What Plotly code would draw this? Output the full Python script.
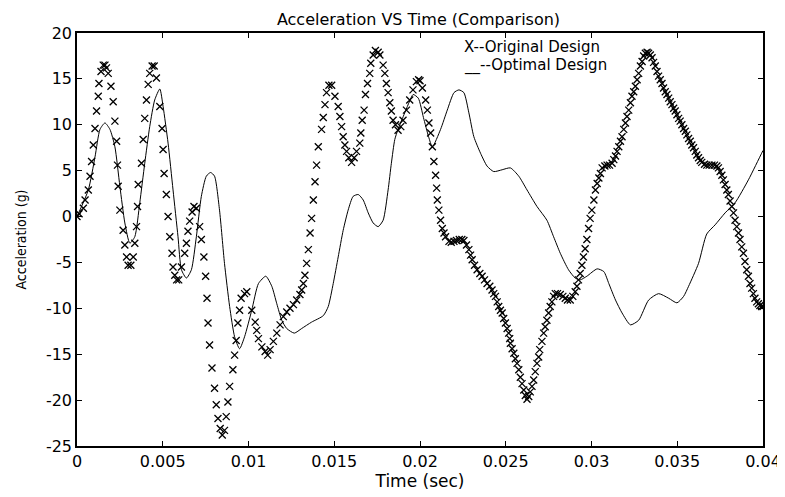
import plotly.graph_objects as go

# Optimal design (solid line)
opt_t = [0.0, 0.00066, 0.00105, 0.00134, 0.00163, 0.00192, 0.00221, 0.0025, 0.00279, 0.00308,
         0.00337, 0.00366, 0.00395, 0.00424, 0.00453, 0.00483, 0.00502, 0.00531, 0.0056, 0.00589,
         0.00609, 0.00638, 0.00667, 0.00696, 0.00725, 0.00754, 0.00779, 0.00802, 0.00831, 0.0086,
         0.0089, 0.00919, 0.00948, 0.00977, 0.01019, 0.01058, 0.01101, 0.01136, 0.01165, 0.01194,
         0.01223, 0.01267, 0.0131, 0.01368, 0.01436, 0.01465, 0.01494, 0.01523, 0.01552, 0.01581,
         0.0161, 0.0164, 0.01669, 0.01698, 0.01727, 0.01756, 0.01785, 0.01814, 0.01833, 0.01853,
         0.01872, 0.01911, 0.0194, 0.0196, 0.0199, 0.0202, 0.0205, 0.02072, 0.0212, 0.02159,
         0.02198, 0.02227, 0.02256, 0.02285, 0.02314, 0.02353, 0.02391, 0.0243, 0.02479, 0.02527,
         0.02576, 0.02624, 0.02682, 0.0274, 0.02779, 0.02818, 0.02866, 0.02905, 0.02934, 0.02973,
         0.03033, 0.03072, 0.03101, 0.0314, 0.03178, 0.03227, 0.03275, 0.03333, 0.03391, 0.0345,
         0.03498, 0.03537, 0.03566, 0.03624, 0.03672, 0.03721, 0.03779, 0.03837, 0.03915, 0.03992,
         0.04]
opt_a = [0.0, 2.9, 6.5, 9.5, 10.2, 9.5, 7.6, 3.3, -0.7, -2.9,
         -2.2, 1.5, 5.8, 9.8, 12.7, 13.9, 12.0, 8.0, 2.9, -2.2,
         -5.8, -6.7, -5.8, -2.2, 2.2, 4.4, 4.8, 4.4, 0.7, -5.1,
         -9.8, -13.1, -14.4, -13.1, -10.2, -7.3, -6.5, -7.6, -9.5, -11.3,
         -12.2, -12.7, -12.2, -11.5, -10.8, -9.8, -7.3, -4.4, -1.5, 0.7,
         2.2, 2.4, 1.8, 0.4, -0.7, -1.1, -0.4, 2.9, 5.8, 8.4,
         9.5, 11.3, 12.6, 13.3, 12.9, 10.8, 8.7, 7.6, 9.5, 11.6,
         13.5, 13.8, 13.5, 11.3, 8.7, 6.9, 5.5, 4.9, 5.1, 5.3,
         4.4, 2.9, 1.1, -0.4, -2.2, -4.0, -5.8, -6.7, -6.9, -6.5,
         -5.7, -6.0, -7.3, -9.1, -10.5, -11.8, -11.3, -9.1, -8.4, -8.9,
         -9.4, -8.7, -7.6, -5.1, -1.9, -0.9, 0.4, 1.5, 4.0, 6.9,
         7.2]

# Original design (x markers)
orig_t = [0.0, 0.00012, 0.00037, 0.00047, 0.00066, 0.00076, 0.00085, 0.00095, 0.00105, 0.00114,
          0.00124, 0.00128, 0.0014, 0.00153, 0.00163, 0.00172, 0.00182, 0.00198, 0.00211, 0.00221,
          0.00231, 0.00236, 0.0024, 0.0025, 0.00269, 0.00279, 0.00289, 0.00298, 0.00314, 0.00328,
          0.00337, 0.00347, 0.00353, 0.00357, 0.00376, 0.00386, 0.00395, 0.00405, 0.00415, 0.00424,
          0.00438, 0.0045, 0.00463, 0.00483, 0.00496, 0.00502, 0.00508, 0.00521, 0.00531, 0.00541,
          0.00554, 0.0056, 0.0057, 0.00581, 0.00593, 0.00609, 0.00628, 0.00638, 0.00647, 0.00657,
          0.00671, 0.00682, 0.00696, 0.00715, 0.00725, 0.0074, 0.0075, 0.00758, 0.00764, 0.00773,
          0.00787, 0.00802, 0.00812, 0.00822, 0.00835, 0.00847, 0.0086, 0.0087, 0.0088, 0.0089,
          0.00909, 0.00919, 0.00928, 0.00938, 0.00948, 0.00957, 0.00977, 0.0099, 0.01019, 0.01039,
          0.01048, 0.01058, 0.01078, 0.01097, 0.01112, 0.01126, 0.01145, 0.01165, 0.01184, 0.01203,
          0.01223, 0.01242, 0.01262, 0.01281, 0.013, 0.0131, 0.0132, 0.01329, 0.01339, 0.01349,
          0.01359, 0.01368, 0.01378, 0.01388, 0.01397, 0.01407, 0.01426, 0.01436, 0.01446, 0.01455,
          0.01469, 0.01485, 0.01504, 0.01523, 0.01533, 0.01543, 0.01552, 0.01562, 0.01572, 0.01585,
          0.01601, 0.01616, 0.0163, 0.01649, 0.01655, 0.01663, 0.01674, 0.01682, 0.01694, 0.01707,
          0.01713, 0.01727, 0.0174, 0.01756, 0.01766, 0.01785, 0.01795, 0.01804, 0.01814, 0.01824,
          0.01833, 0.01843, 0.01857, 0.01872, 0.01888, 0.01901, 0.01921, 0.0194, 0.01959, 0.01979,
          0.01992, 0.02, 0.02014, 0.02033, 0.02043, 0.02052, 0.02062, 0.02072, 0.02081, 0.02091,
          0.02097, 0.02101, 0.0211, 0.0212, 0.0213, 0.0214, 0.02149, 0.02169, 0.02182, 0.02198,
          0.02213, 0.02229, 0.02244, 0.02256, 0.02271, 0.02285, 0.02295, 0.02304, 0.02318, 0.02333,
          0.02349, 0.02362, 0.02376, 0.02391, 0.02407, 0.0242, 0.0243, 0.0244, 0.0245, 0.02459,
          0.02469, 0.02479, 0.02488, 0.02498, 0.02508, 0.02517, 0.02523, 0.02527, 0.02537, 0.02547,
          0.02556, 0.02566, 0.02576, 0.02585, 0.02595, 0.02605, 0.02614, 0.02624, 0.02634, 0.02643,
          0.02653, 0.02663, 0.02672, 0.02682, 0.02692, 0.02698, 0.02711, 0.02721, 0.0273, 0.0274,
          0.0275, 0.02759, 0.02769, 0.02779, 0.02789, 0.02802, 0.02818, 0.02833, 0.02847, 0.0286,
          0.02876, 0.02891, 0.02905, 0.02915, 0.02924, 0.02934, 0.02944, 0.02953, 0.02963, 0.02973,
          0.02983, 0.02992, 0.03002, 0.03014, 0.03023, 0.03033, 0.03043, 0.03052, 0.03062, 0.03078,
          0.03091, 0.03105, 0.0312, 0.0313, 0.0314, 0.03149, 0.03159, 0.03169, 0.03178, 0.03188,
          0.03198, 0.03207, 0.03217, 0.03227, 0.03236, 0.03246, 0.03256, 0.03266, 0.03275, 0.03285,
          0.03295, 0.03304, 0.03314, 0.03324, 0.03333, 0.03343, 0.03353, 0.03362, 0.03372, 0.03382,
          0.03391, 0.03401, 0.03411, 0.0342, 0.0343, 0.0344, 0.0345, 0.03459, 0.03469, 0.03479,
          0.03488, 0.03498, 0.03508, 0.03517, 0.03527, 0.03537, 0.03547, 0.03556, 0.03566, 0.03576,
          0.03585, 0.03595, 0.03605, 0.03614, 0.03624, 0.03634, 0.03643, 0.03659, 0.03672, 0.03686,
          0.03702, 0.03717, 0.03731, 0.0374, 0.0375, 0.0376, 0.03769, 0.03779, 0.03789, 0.03798,
          0.03808, 0.03818, 0.03828, 0.03837, 0.03847, 0.03857, 0.03866, 0.03876, 0.03886, 0.03895,
          0.03905, 0.03915, 0.03924, 0.03934, 0.03944, 0.03953, 0.03963, 0.03973, 0.03982, 0.03992,
          0.04]
orig_a = [0.0, 0.3, 0.9, 1.8, 2.9, 4.4, 6.0, 7.8, 9.6, 11.5,
          13.1, 14.5, 15.8, 16.5, 16.5, 16.2, 15.6, 14.2, 12.5, 10.4,
          8.2, 5.6, 3.3, 0.7, -1.5, -3.1, -4.4, -5.3, -5.3, -4.4,
          -2.9, -1.1, 1.1, 3.5, 5.8, 8.4, 10.7, 12.7, 14.4, 15.6,
          16.4, 16.4, 15.1, 12.0, 9.6, 7.3, 4.7, 2.4, 0.0, -2.2,
          -4.0, -5.5, -6.4, -6.9, -6.9, -5.5, -4.0, -2.9, -1.6, -0.5,
          0.5, 1.1, 0.9, -1.1, -2.5, -4.4, -6.5, -8.9, -11.6, -14.0,
          -16.5, -18.7, -20.5, -22.0, -23.1, -23.8, -23.3, -21.8, -20.2, -18.5,
          -16.7, -15.1, -13.5, -11.6, -10.2, -8.9, -8.4, -8.2, -10.2, -11.5,
          -12.4, -13.3, -14.2, -14.7, -15.1, -14.5, -13.6, -12.7, -11.8, -10.9,
          -10.4, -10.0, -9.6, -9.1, -8.5, -8.0, -7.3, -6.4, -5.1, -3.6,
          -1.8, -0.2, 1.8, 3.8, 5.6, 7.6, 9.5, 10.8, 12.2, 13.5,
          14.3, 14.3, 13.1, 12.0, 10.9, 9.8, 8.7, 7.8, 7.1, 6.4,
          5.9, 6.4, 7.1, 8.0, 9.1, 10.5, 11.6, 13.3, 14.5, 15.6,
          16.7, 17.6, 18.1, 17.9, 17.6, 16.5, 15.6, 14.5, 13.5, 12.4,
          11.5, 10.5, 10.0, 9.4, 9.8, 10.5, 11.6, 12.7, 13.8, 14.7,
          14.9, 14.8, 14.0, 12.7, 11.6, 10.2, 9.1, 7.6, 6.0, 4.5,
          3.1, 1.8, 0.7, -0.4, -1.3, -1.8, -2.2, -2.7, -2.8, -2.7,
          -2.6, -2.5, -2.5, -2.6, -3.1, -3.6, -4.2, -4.7, -5.3, -5.8,
          -6.2, -6.5, -6.9, -7.3, -7.6, -8.0, -8.4, -8.7, -9.3, -9.8,
          -10.2, -10.5, -11.1, -11.6, -12.2, -12.7, -13.3, -13.8, -14.4, -14.9,
          -15.5, -16.0, -16.7, -17.5, -18.2, -18.9, -19.5, -19.9, -19.6, -19.1,
          -18.5, -17.8, -16.9, -16.0, -15.3, -14.5, -13.6, -12.7, -12.0, -11.3,
          -10.5, -9.8, -9.3, -8.7, -8.4, -8.4, -8.5, -8.7, -8.9, -9.1,
          -9.1, -8.7, -8.2, -7.6, -6.9, -6.2, -5.3, -4.4, -3.5, -2.5,
          -1.3, -0.2, 0.7, 1.8, 2.9, 3.6, 4.2, 4.7, 5.3, 5.5,
          5.6, 5.6, 5.8, 6.2, 6.6, 7.1, 7.6, 8.2, 8.7, 9.5,
          10.2, 10.9, 11.6, 12.4, 13.1, 13.6, 14.2, 14.9, 15.6, 16.4,
          16.9, 17.5, 17.8, 17.9, 17.8, 17.6, 17.3, 16.8, 16.4, 15.8,
          15.3, 14.9, 14.5, 14.0, 13.6, 13.3, 12.9, 12.5, 12.2, 11.8,
          11.5, 11.1, 10.7, 10.4, 10.0, 9.6, 9.3, 8.9, 8.5, 8.2,
          7.8, 7.5, 7.1, 6.7, 6.4, 6.1, 5.9, 5.7, 5.6, 5.6,
          5.6, 5.6, 5.5, 5.3, 4.9, 4.5, 4.0, 3.5, 2.9, 2.4,
          1.7, 1.1, 0.4, -0.4, -1.1, -1.8, -2.5, -3.3, -4.0, -4.9,
          -5.8, -6.5, -7.3, -7.8, -8.4, -8.9, -9.3, -9.5, -9.7, -9.8,
          -9.8]

x_tickvals = [0, 0.005, 0.01, 0.015, 0.02, 0.025, 0.03, 0.035, 0.04]
x_ticktext = ["0", "0.005", "0.01", "0.015", "0.02", "0.025", "0.03", "0.035", "0.04"]
y_tickvals = [-25, -20, -15, -10, -5, 0, 5, 10, 15, 20]
y_ticktext = ["-25", "-20", "-15", "-10", "-5", "0", "5", "10", "15", "20"]

title_text = "Acceleration VS Time (Comparison)"
x_label = "Time (sec)"
y_label = "Acceleration (g)"
legend_lines = ["X--Original Design", "__--Optimal Design"]

FONT = "DejaVu Sans, Arial, sans-serif"

# The page body adds an 8px offset; plot box target in screenshot: x 77..766, y 33..446
OFF = 8
W, H = 785, 497
L, R, T, B = 77 - OFF, W - (766 - OFF), 33 - OFF, H - (446 - OFF)

fig = go.Figure()
fig.add_trace(go.Scatter(
    x=opt_t, y=opt_a, mode="lines",
    line=dict(color="black", width=1, shape="spline", smoothing=0.6),
    showlegend=False, hoverinfo="skip"))
fig.add_trace(go.Scatter(
    x=orig_t, y=orig_a, mode="markers",
    marker=dict(symbol="x-thin", size=7, color="black",
                line=dict(color="black", width=1.3)),
    showlegend=False, hoverinfo="skip"))

axis_common = dict(
    showline=True, linecolor="black", linewidth=1.5, mirror="ticks",
    ticks="inside", ticklen=5, tickcolor="black", tickwidth=1,
    showgrid=False, zeroline=False,
    tickfont=dict(family=FONT, size=16, color="black"))

fig.update_xaxes(range=[0, 0.04], tickvals=x_tickvals, ticktext=x_ticktext,
                 title=dict(text=x_label, font=dict(family=FONT, size=17, color="black"), standoff=2),
                 **axis_common)
fig.update_yaxes(range=[-25, 20], tickvals=y_tickvals, ticktext=y_ticktext,
                 title=dict(text=y_label, font=dict(family="DejaVu Sans Condensed, " + FONT, size=14, color="black"), standoff=16),
                 **axis_common)

fig.add_annotation(text=legend_lines[0], xref="paper", yref="paper",
                   x=(465 - 77) / 689, y=(446 - 47) / 413, xanchor="left", yanchor="middle",
                   showarrow=False, borderpad=0, font=dict(family=FONT, size=15, color="black"))
fig.add_annotation(text=legend_lines[1], xref="paper", yref="paper",
                   x=(465 - 77) / 689, y=(446 - 65) / 413, xanchor="left", yanchor="middle",
                   showarrow=False, borderpad=0, font=dict(family=FONT, size=15, color="black"))

fig.update_layout(
    width=W, height=H,
    margin=dict(l=L, r=R, t=T, b=B),
    paper_bgcolor="white", plot_bgcolor="white",
    title=dict(text=title_text, x=(418.5 - OFF) / W, xanchor="center",
               y=1 - 11 / H, yanchor="middle",
               font=dict(family=FONT, size=16, color="black")),
)

fig.write_html("out.html")
